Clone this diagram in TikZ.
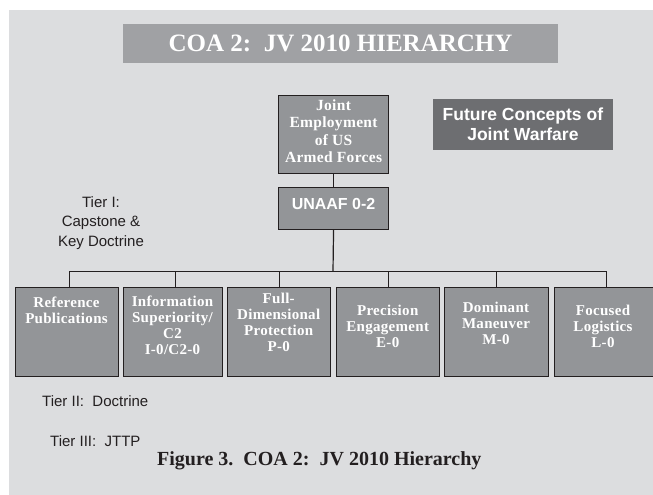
\documentclass[tikz,border=0pt]{standalone}
\usepackage{fontspec}
\setmainfont{Liberation Serif}
\setsansfont{Liberation Sans}
\newfontfamily\spacedserif[LetterSpace=2]{Liberation Serif}
\definecolor{bg}{HTML}{DCDDDF}
\definecolor{titlegray}{HTML}{A0A1A4}
\definecolor{darkbox}{HTML}{6D6E71}
\definecolor{boxgray}{HTML}{939598}
\definecolor{edge}{HTML}{231F20}
\tikzset{
  box/.style={draw=edge, fill=boxgray, line width=1.1pt, inner sep=0pt, anchor=north west},
  boxtext/.style={text=white, align=center, anchor=north, inner sep=0pt,
    font=\spacedserif\bfseries\fontsize{15}{16}\selectfont},
  tier/.style={text=edge, inner sep=0pt, font=\sffamily\fontsize{15}{19.3}\selectfont},
  link/.style={draw=edge, line width=1.2pt}
}
\begin{document}
\begin{tikzpicture}[x=1pt,y=-1pt]
\useasboundingbox (0,0) rectangle (653,495);
\fill[bg] (9,10) rectangle (653,495);

% title
\node[fill=titlegray, anchor=north west, minimum width=434.7pt, minimum height=38.7pt, inner sep=0pt,
  text=white, font=\bfseries\fontsize{25}{25}\selectfont] (title) at (123,24) {COA 2:\ \ JV 2010 HIERARCHY};

% future concepts
\node[fill=darkbox, anchor=north west, minimum width=180pt, minimum height=50.7pt, inner sep=0pt] (future) at (432.7,99) {};
\node[text=white, align=center, inner sep=0pt, font=\sffamily\bfseries\fontsize{17.5}{20}\selectfont] (futuretext) at (future.center) {Future Concepts of\\Joint Warfare};

% top boxes
\node[box, minimum width=110pt, minimum height=77.7pt] (joint) at (278,95) {};
\node[boxtext, font=\spacedserif\bfseries\fontsize{15.5}{17.3}\selectfont] (jointtext) at (joint.north |- 0,99.5) {Joint\\Employment\\of US\\Armed Forces};
\node[box, minimum width=110pt, minimum height=41.7pt] (unaaf) at (278,187) {};
\node[text=white, anchor=base, inner sep=0pt, font=\sffamily\bfseries\fontsize{16}{16}\selectfont] (unaaftext) at (unaaf.north |- 0,209) {UNAAF 0-2};

% bottom boxes
\node[box, minimum width=103pt,   minimum height=88.7pt] (b1) at (15,287) {};
\node[box, minimum width=98.4pt,  minimum height=88.7pt] (b2) at (123.3,287) {};
\node[box, minimum width=102.7pt, minimum height=88.7pt] (b3) at (227.3,287) {};
\node[box, minimum width=103.3pt, minimum height=88.7pt] (b4) at (336,287) {};
\node[box, minimum width=103.4pt, minimum height=88.7pt] (b5) at (444.3,287) {};
\node[box, minimum width=98.8pt,  minimum height=88.7pt] (b6) at (553.7,287) {};

\node[boxtext] (t1) at (66.5,297) {Reference\\Publications};
\node[boxtext] (t2) at (172.5,295.5) {Information\\Superiority/\\C2\\I-0/C2-0};
\node[boxtext] (t3) at (278.7,292.5) {Full-\\Dimensional\\Protection\\P-0};
\node[boxtext] (t4) at (387.7,304.5) {Precision\\Engagement\\E-0};
\node[boxtext] (t5) at (496,301.5) {Dominant\\Maneuver\\M-0};
\node[boxtext] (t6) at (603,304.5) {Focused\\Logistics\\L-0};

% connectors
\coordinate (bus) at (333,271.5);
\draw[link] (joint.south) -- (unaaf.north);
\draw[link] (unaaf.south) -- (bus);
\draw[link] ([xshift=2.2pt]b1.north) |- (bus) -| ([xshift=3pt]b6.north);
\draw[link] ([xshift=2.5pt]b2.north) -- ([xshift=2.5pt]b2.north |- bus);
\draw[link] (b3.north) -- (b3.north |- bus);
\draw[link] (b4.north) -- (b4.north |- bus);
\draw[link] (b5.north) -- (b5.north |- bus);

% tier labels
\node[tier, align=center, anchor=north] (tier1) at (101,196.5) {Tier I:\\Capstone \&\\Key Doctrine};
\node[tier, anchor=base west] (tier2) at (42,406.7) {Tier II:\ \ Doctrine};
\node[tier, anchor=base west] (tier3) at (50,446.7) {Tier III:\ \ JTTP};

% caption
\node[anchor=base west, inner sep=0pt, text=edge, font=\bfseries\fontsize{20}{20}\selectfont] (caption) at (157,465) {Figure 3.\ \ COA 2:\ \ JV 2010 Hierarchy};
\end{tikzpicture}
\end{document}
